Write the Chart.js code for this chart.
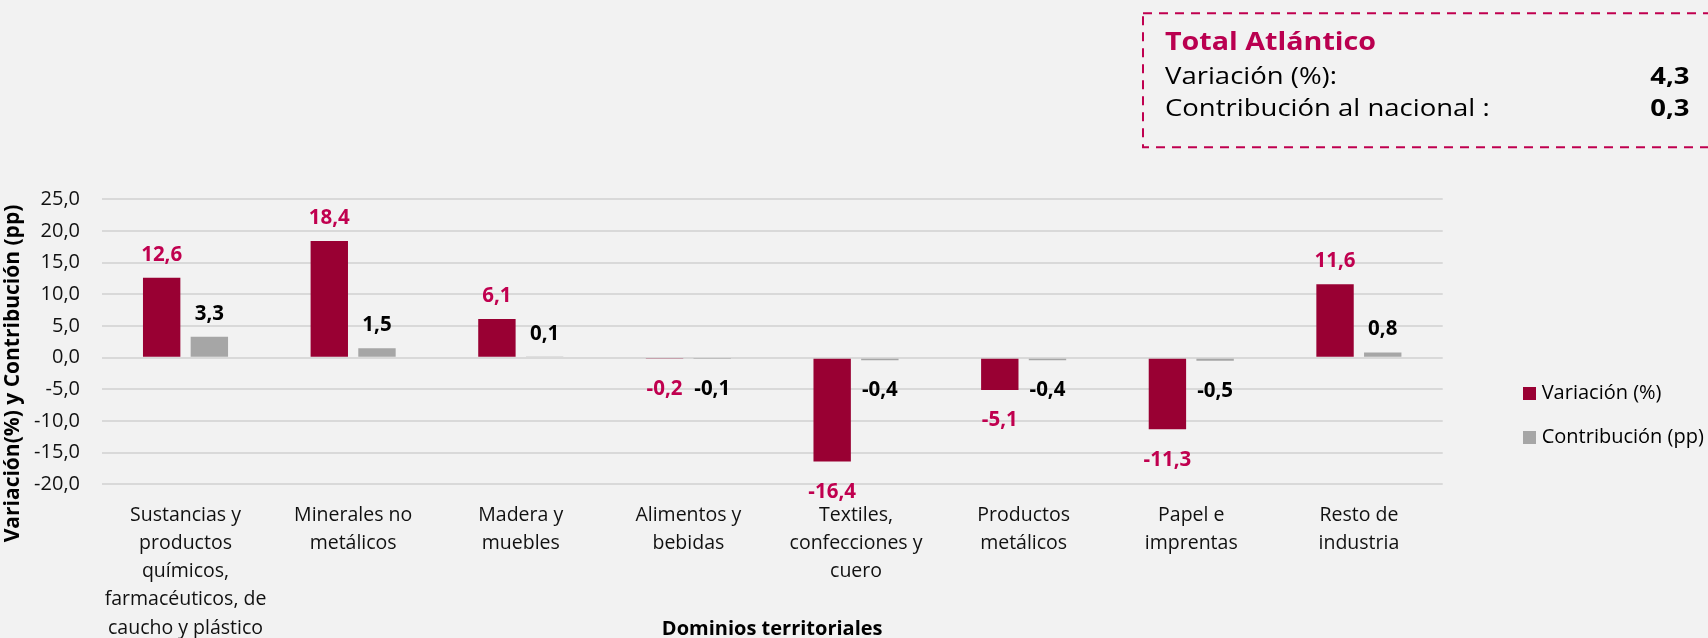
<!DOCTYPE html>
<html>
<head>
<meta charset="utf-8">
<script src="https://cdn.jsdelivr.net/npm/chart.js@4.4.1/dist/chart.umd.min.js"></script>
<style>
  html, body { margin:0; padding:0; background:#F2F2F2; width:1708px; height:638px; overflow:hidden; font-family:'Open Sans', sans-serif; }
  #wrap { position:relative; width:1708px; height:638px; }
  #c { position:absolute; left:0; top:0; }
  .t { position:absolute; white-space:nowrap; line-height:1; }
  .sx { transform:scaleX(1.17); transform-origin:left top; }
  .sxr { transform:scaleX(1.17); transform-origin:right top; }
  .sq { position:absolute; width:13px; height:13px; }
</style>
</head>
<body>
<div id="wrap">
  <canvas id="c" width="1708" height="638"></canvas>
  <svg style="position:absolute;left:0;top:0" width="1708" height="638">
    <rect x="1143" y="13.3" width="640" height="134" fill="none" stroke="#C0004F" stroke-width="2" stroke-dasharray="9 7"></rect>
  </svg>
  <div class="t sx" id="boxTitle" style="left:1165px;top:29px;font-size:24.5px;font-weight:bold;color:#BA0050;"></div>
  <div class="t sx" id="row1" style="left:1165px;top:64.2px;font-size:23.5px;color:#000;"></div>
  <div class="t sx" id="row2" style="left:1165px;top:95.5px;font-size:23.5px;color:#000;"></div>
  <div class="t sxr" id="val1" style="right:18px;top:64.2px;font-size:23.5px;font-weight:bold;color:#000;"></div>
  <div class="t sxr" id="val2" style="right:18px;top:95.5px;font-size:23.5px;font-weight:bold;color:#000;"></div>
  <div class="sq" style="left:1523px;top:386.7px;background:#990033;"></div>
  <div class="t" id="leg1" style="left:1541.7px;top:382.4px;font-size:20px;color:#000;"></div>
  <div class="sq" style="left:1523px;top:430.7px;background:#A6A6A6;"></div>
  <div class="t" id="leg2" style="left:1541.7px;top:426.4px;font-size:20px;color:#000;"></div>
</div>
<script>
// ---------- data ----------
const categories = [
  ["Sustancias y", "productos", "químicos,", "farmacéuticos, de", "caucho y plástico"],
  ["Minerales no", "metálicos"],
  ["Madera y", "muebles"],
  ["Alimentos y", "bebidas"],
  ["Textiles,", "confecciones y", "cuero"],
  ["Productos", "metálicos"],
  ["Papel e", "imprentas"],
  ["Resto de", "industria"]
];
const variacion = [12.6, 18.4, 6.1, -0.2, -16.4, -5.1, -11.3, 11.6];
const contribucion = [3.3, 1.5, 0.1, -0.1, -0.4, -0.4, -0.5, 0.8];
const seriesNames = ["Variación (%)", "Contribución (pp)"];
const yMin = -20;
const yMax = 25;
const yStep = 5;
const xTitle = "Dominios territoriales";
const yTitle = "Variación(%) y Contribución (pp)";
const boxTitle = "Total Atlántico";
const boxLabels = ["Variación (%):", "Contribución al nacional :"];
const boxValues = [4.3, 0.3];

// ---------- helpers ----------
const fmt = v => Number(v).toFixed(1).replace('.', ',');
const FONT = "'Open Sans', sans-serif";
const barColors = ['#990033', '#A6A6A6'];
const labelColors = ['#C0004F', '#000000'];

document.getElementById('boxTitle').textContent = boxTitle;
document.getElementById('row1').textContent = boxLabels[0];
document.getElementById('row2').textContent = boxLabels[1];
document.getElementById('val1').textContent = fmt(boxValues[0]);
document.getElementById('val2').textContent = fmt(boxValues[1]);
document.getElementById('leg1').textContent = seriesNames[0];
document.getElementById('leg2').textContent = seriesNames[1];

const valueLabels = {
  id: 'valueLabels',
  afterDatasetsDraw(chart) {
    const ctx = chart.ctx;
    ctx.save();
    ctx.font = "bold 20.5px " + FONT;
    ctx.textAlign = 'center';
    ctx.textBaseline = 'alphabetic';
    chart.data.datasets.forEach((ds, i) => {
      const meta = chart.getDatasetMeta(i);
      ctx.fillStyle = labelColors[i];
      meta.data.forEach((bar, j) => {
        const v = ds.data[j];
        const cy = v >= 0 ? bar.y - 24.5 : bar.y + 29;
        ctx.fillText(fmt(v), bar.x, cy + 7.3);
      });
    });
    ctx.restore();
  }
};

const yTitlePlugin = {
  id: 'yTitlePlugin',
  afterDraw(chart) {
    const ctx = chart.ctx;
    ctx.save();
    ctx.translate(13.3, 373.5);
    ctx.rotate(-Math.PI / 2);
    ctx.font = "bold 21px " + FONT;
    ctx.fillStyle = '#000';
    ctx.textAlign = 'center';
    ctx.textBaseline = 'middle';
    ctx.fillText(yTitle, 0, 0);
    ctx.restore();
  }
};

Chart.defaults.font.family = FONT;

new Chart(document.getElementById('c'), {
  type: 'bar',
  data: {
    labels: categories,
    datasets: [
      { label: seriesNames[0], data: variacion, backgroundColor: barColors[0], categoryPercentage: 0.569, barPercentage: 0.784 },
      { label: seriesNames[1], data: contribucion, backgroundColor: barColors[1], categoryPercentage: 0.569, barPercentage: 0.784 }
    ]
  },
  options: {
    responsive: false,
    animation: false,
    devicePixelRatio: 1,
    layout: { padding: { left: 0, right: 265.3, top: 199.3, bottom: 0 } },
    plugins: { legend: { display: false }, tooltip: { enabled: false } },
    scales: {
      x: {
        grid: { display: false, drawTicks: false },
        border: { display: false },
        ticks: { color: '#111', font: { size: 19.5, lineHeight: 1.45 }, padding: 16.6, maxRotation: 0, minRotation: 0, autoSkip: false },
        title: { display: true, text: xTitle, color: '#000', font: { size: 20, weight: 'bold', lineHeight: 0.9 }, padding: { top: 0, bottom: 0 } },
        afterFit: s => { s.height = 153.7; }
      },
      y: {
        min: yMin,
        max: yMax,
        ticks: { stepSize: yStep, callback: v => fmt(v), color: '#111', font: { size: 20 }, padding: 21.7 },
        grid: { color: '#D9D9D9', lineWidth: 2, drawTicks: false },
        border: { display: false },
        afterFit: s => { s.width = 101.7; }
      }
    }
  },
  plugins: [valueLabels, yTitlePlugin]
});
</script>
</body>
</html>
